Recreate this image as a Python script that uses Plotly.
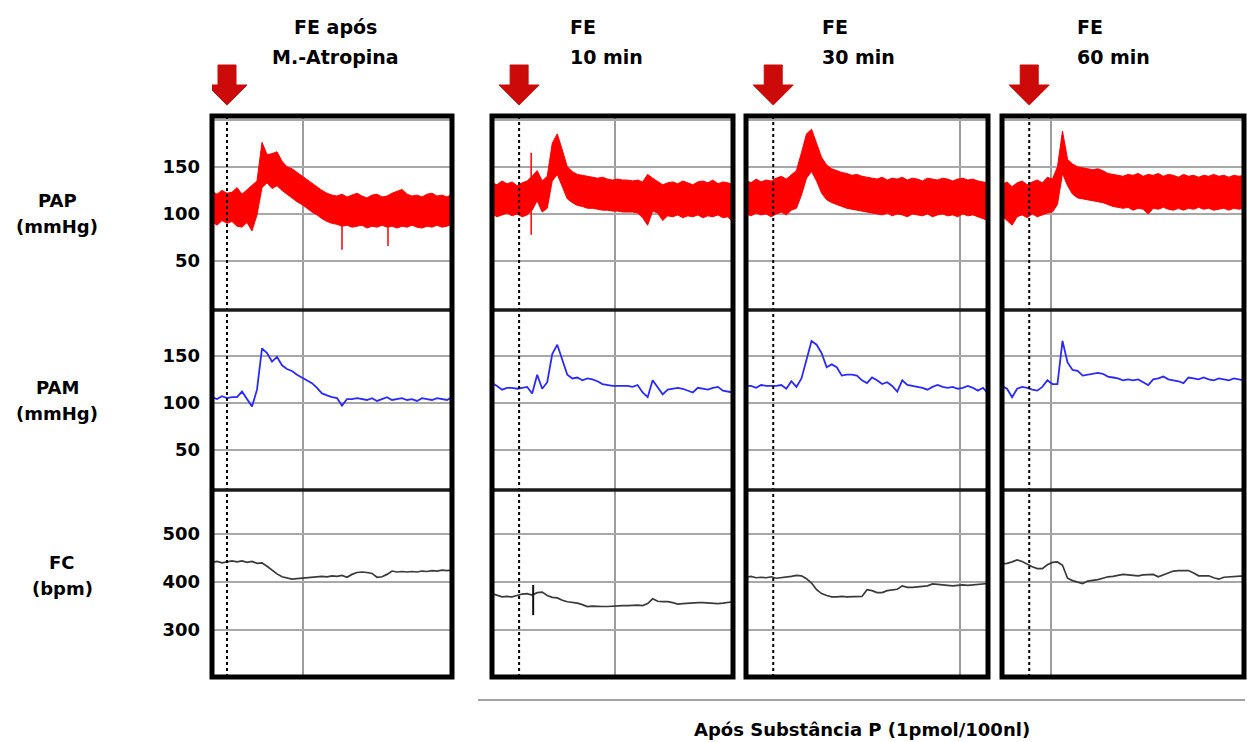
import plotly.graph_objects as go
from plotly.subplots import make_subplots

# ---------------- data ----------------
COLUMN_TITLES = [["FE após", "M.-Atropina"], ["FE", "10 min"], ["FE", "30 min"], ["FE", "60 min"]]
ROW_LABELS = [["PAP", "(mmHg)"], ["PAM", "(mmHg)"], ["FC", "(bpm)"]]
BOTTOM_LABEL = "Após Substância P (1pmol/100nl)"

# sample times (s) within each recording window
T = [0, 5, 10, 15, 20, 25, 30, 35, 40, 45, 50, 55, 60, 65, 70, 75, 80, 85, 90, 95,
     100, 105, 110, 115, 120, 125, 130, 135, 140, 145, 150, 155, 160, 165, 170, 175,
     180, 185, 190, 195, 200, 205, 210, 215, 220, 225, 230, 235, 240]

EVENT_T = [15, 27, 27, 27]        # FE stimulus time per window
GRID_T = [91, 122, 212, 49]       # vertical time grid line per window

PAP_TICKS = [50, 100, 150, 200]
PAP_TICKTEXT = ["50", "100", "150", ""]
PAM_TICKS = [50, 100, 150]
FC_TICKS = [300, 400, 500]

# PAP (pulsatile) envelopes: systolic (upper) and diastolic (lower)
PAP1_UP = [124, 121, 125, 122, 123, 128, 121, 126, 130, 135, 176, 163, 164, 166, 156, 150, 148, 144, 141, 137,
           133, 129, 125, 122, 120, 119, 121, 118, 120, 122, 119, 117, 120, 121, 118, 119, 122, 124, 126, 121,
           119, 120, 118, 121, 122, 119, 120, 118, 121]
PAP1_LO = [92, 88, 93, 90, 92, 87, 86, 91, 82, 99, 128, 133, 127, 130, 125, 121, 117, 113, 110, 106,
           102, 99, 95, 92, 90, 89, 87, 88, 86, 87, 88, 85, 87, 86, 88, 86, 87, 85, 87, 86,
           88, 86, 85, 87, 86, 88, 86, 87, 89]
PAP2_UP = [133, 131, 135, 132, 134, 130, 133, 135, 140, 146, 135, 140, 175, 185, 168, 150, 145, 142, 141, 140,
           139, 138, 139, 137, 136, 137, 136, 136, 135, 136, 134, 142, 138, 134, 131, 133, 134, 132, 135, 133,
           131, 134, 135, 133, 136, 132, 134, 133, 131]
PAP2_LO = [100, 97, 99, 101, 98, 100, 97, 99, 104, 114, 102, 106, 135, 142, 130, 116, 112, 109, 108, 106,
           106, 105, 104, 104, 103, 103, 102, 102, 102, 101, 96, 88, 103, 101, 93, 98, 97, 99, 96, 98,
           97, 99, 96, 98, 97, 99, 96, 97, 91]
PAP3_UP = [136, 133, 137, 134, 136, 135, 138, 140, 137, 142, 146, 165, 185, 190, 175, 160, 152, 148, 146, 144,
           143, 141, 142, 140, 139, 138, 137, 139, 136, 138, 137, 139, 136, 138, 137, 135, 138, 137, 136, 138,
           137, 135, 137, 138, 136, 137, 135, 134, 133]
PAP3_LO = [100, 98, 101, 99, 100, 97, 100, 102, 99, 104, 106, 120, 138, 145, 135, 122, 115, 112, 110, 108,
           106, 105, 104, 103, 102, 101, 100, 99, 101, 98, 100, 99, 97, 100, 99, 98, 100, 97, 99, 100,
           98, 99, 97, 100, 98, 99, 97, 95, 93]
PAP4_UP = [131, 134, 129, 133, 135, 131, 134, 136, 133, 139, 137, 150, 188, 158, 153, 150, 149, 148, 147, 148,
           146, 143, 142, 141, 140, 142, 141, 143, 140, 142, 141, 143, 140, 142, 141, 139, 142, 140, 141, 139,
           141, 140, 142, 140, 141, 139, 141, 140, 141]
PAP4_LO = [98, 93, 88, 97, 99, 96, 100, 97, 99, 101, 102, 110, 143, 130, 121, 117, 116, 115, 114, 113,
           112, 110, 108, 107, 106, 107, 104, 106, 105, 100, 106, 105, 107, 105, 104, 106, 104, 106, 105, 107,
           105, 106, 104, 105, 106, 104, 106, 105, 106]

# brief PAP artefact spikes per window: time, min, max
PAP_SPIKE_T = [[130, 176], [39], [], []]
PAP_SPIKE_MIN = [[62, 66], [78], [], []]
PAP_SPIKE_MAX = [[88, 87], [165], [], []]

# PAM (mean arterial pressure, mmHg)
PAM1 = [106, 104, 107, 105, 106, 106, 112, 104, 96, 114, 158, 153, 144, 149, 140, 136, 134, 130, 127, 124,
        121, 116, 110, 108, 106, 105, 97, 104, 104, 105, 104, 103, 105, 102, 104, 106, 103, 104, 105, 103,
        104, 102, 105, 104, 103, 105, 104, 103, 106]
PAM2 = [121, 118, 114, 116, 116, 115, 116, 117, 110, 130, 115, 122, 152, 162, 146, 130, 126, 127, 124, 126,
        125, 123, 120, 119, 118, 118, 118, 118, 117, 119, 111, 106, 124, 117, 109, 114, 115, 116, 115, 113,
        111, 116, 115, 114, 116, 117, 113, 112, 111]
PAM3 = [118, 118, 116, 119, 118, 118, 118, 119, 115, 123, 117, 126, 145, 166, 162, 153, 138, 141, 138, 129,
        130, 130, 129, 124, 121, 127, 124, 120, 122, 118, 112, 124, 119, 118, 117, 116, 114, 117, 119, 117,
        116, 117, 115, 116, 118, 116, 113, 116, 110]
PAM4 = [118, 115, 106, 115, 117, 116, 114, 113, 117, 124, 120, 120, 166, 143, 135, 134, 129, 130, 131, 132,
        131, 128, 127, 126, 124, 125, 124, 125, 122, 119, 125, 126, 128, 125, 124, 123, 121, 127, 126, 125,
        127, 125, 124, 126, 125, 124, 126, 125, 124]

# FC (heart rate, bpm)
FC1 = [441, 443, 440, 442, 444, 442, 444, 441, 443, 439, 440, 433, 425, 417, 411, 408, 406, 407, 408, 409,
       410, 410, 412, 411, 413, 412, 414, 410, 416, 420, 421, 420, 418, 410, 411, 416, 423, 421, 422, 421,
       422, 421, 423, 422, 424, 423, 425, 424, 425]
FC2 = [376, 372, 369, 370, 369, 372, 375, 376, 373, 378, 379, 372, 368, 367, 362, 359, 358, 356, 353, 349,
       350, 349, 349, 349, 350, 350, 351, 351, 352, 352, 351, 355, 365, 360, 359, 359, 357, 354, 355, 356,
       356, 357, 357, 356, 355, 355, 356, 357, 359]
FC3 = [410, 412, 409, 410, 409, 411, 408, 409, 411, 412, 414, 413, 407, 398, 384, 376, 372, 369, 369, 370,
       369, 369, 370, 370, 384, 382, 378, 378, 382, 383, 385, 392, 389, 389, 390, 391, 392, 396, 395, 394,
       393, 392, 393, 394, 393, 394, 394, 396, 397]
FC4 = [438, 439, 442, 446, 443, 437, 432, 428, 428, 436, 441, 442, 435, 408, 403, 400, 397, 402, 403, 405,
       408, 411, 412, 414, 416, 415, 414, 413, 415, 415, 416, 411, 415, 419, 423, 424, 424, 424, 419, 413,
       413, 413, 409, 406, 410, 411, 412, 412, 413]

FC_SPIKE_T = [[], [41], [], []]
FC_SPIKE_MIN = [[], [331], [], []]
FC_SPIKE_MAX = [[], [394], [], []]

PAP_UP = [PAP1_UP, PAP2_UP, PAP3_UP, PAP4_UP]
PAP_LO = [PAP1_LO, PAP2_LO, PAP3_LO, PAP4_LO]
PAM = [PAM1, PAM2, PAM3, PAM4]
FC = [FC1, FC2, FC3, FC4]

# ---------------- layout ----------------
W, H = 1247, 742
COL_PX = [(212, 452), (492, 733), (746, 988), (1002, 1244)]
ROW_PX = [(116, 310), (310, 490), (490, 677)]
Y_RANGES = [[-2, 204], [7, 199], [202, 592]]
X_RANGE = [0, 240]

FONT = "DejaVu Sans"
RED = "#ff0000"
BLUE = "#2a2aff"
GREY_TRACE = "#3a3a3a"
GRID = "#a8a8a8"


def px_x(px):
    return px / W


def px_y(py):
    return 1 - py / H


fig = make_subplots(rows=3, cols=4)


def axis_id(r, c):
    i = r * 4 + c + 1
    return "" if i == 1 else str(i)


for c in range(4):
    # PAP band
    band_x = T + T[::-1]
    band_y = PAP_UP[c] + PAP_LO[c][::-1]
    fig.add_trace(go.Scatter(x=band_x, y=band_y, fill="toself", fillcolor=RED,
                             mode="lines", line=dict(color=RED, width=1),
                             hoverinfo="skip"), row=1, col=c + 1)
    sx, sy = [], []
    for t, lo, hi in zip(PAP_SPIKE_T[c], PAP_SPIKE_MIN[c], PAP_SPIKE_MAX[c]):
        sx += [t, t, None]
        sy += [lo, hi, None]
    if sx:
        fig.add_trace(go.Scatter(x=sx, y=sy, mode="lines", line=dict(color=RED, width=1.5)),
                      row=1, col=c + 1)
    # PAM
    fig.add_trace(go.Scatter(x=T, y=PAM[c], mode="lines",
                             line=dict(color=BLUE, width=1.8)), row=2, col=c + 1)
    # FC
    fig.add_trace(go.Scatter(x=T, y=FC[c], mode="lines",
                             line=dict(color=GREY_TRACE, width=1.7)), row=3, col=c + 1)
    fx, fy = [], []
    for t, lo, hi in zip(FC_SPIKE_T[c], FC_SPIKE_MIN[c], FC_SPIKE_MAX[c]):
        fx += [t, t, None]
        fy += [lo, hi, None]
    if fx:
        fig.add_trace(go.Scatter(x=fx, y=fy, mode="lines", line=dict(color="#111111", width=2)),
                      row=3, col=c + 1)

tickfont = dict(family=FONT, size=18, color="black", weight="bold")
for r in range(3):
    for c in range(4):
        aid = axis_id(r, c)
        x0, x1 = COL_PX[c]
        ytop, ybot = ROW_PX[r]
        fig.layout["xaxis" + aid].update(
            domain=[px_x(x0), px_x(x1)], range=X_RANGE, showticklabels=False,
            tickvals=[GRID_T[c]], showgrid=True, gridcolor="#9c9c9c", gridwidth=1.5,
            zeroline=False, showline=False, ticks="", fixedrange=True)
        if r == 0:
            tv, tt = PAP_TICKS, PAP_TICKTEXT
        elif r == 1:
            tv, tt = PAM_TICKS, [str(v) for v in PAM_TICKS]
        else:
            tv, tt = FC_TICKS, [str(v) for v in FC_TICKS]
        fig.layout["yaxis" + aid].update(
            domain=[px_y(ybot), px_y(ytop)], range=Y_RANGES[r],
            tickvals=tv, ticktext=tt, showticklabels=(c == 0), tickfont=tickfont,
            ticklabelstandoff=11, ticks="",
            showgrid=True, gridcolor=GRID, gridwidth=2, zeroline=False, showline=False,
            fixedrange=True)

shapes = []
annotations = []
for c in range(4):
    x0, x1 = COL_PX[c]
    xref = "x" + axis_id(0, c)
    # event dotted line
    shapes.append(dict(type="line", xref=xref, yref="paper", x0=EVENT_T[c], x1=EVENT_T[c],
                       y0=px_y(ROW_PX[2][1]), y1=px_y(ROW_PX[0][0]),
                       line=dict(color="black", width=2, dash="dot"), layer="above"))
    # row dividers
    for yd in (ROW_PX[0][1], ROW_PX[1][1]):
        shapes.append(dict(type="line", xref="paper", yref="paper", x0=px_x(x0), x1=px_x(x1),
                           y0=px_y(yd), y1=px_y(yd), line=dict(color="#1a1a1a", width=3.5),
                           layer="above"))
    # outer frame
    shapes.append(dict(type="rect", xref="paper", yref="paper", x0=px_x(x0), x1=px_x(x1),
                       y0=px_y(ROW_PX[2][1]), y1=px_y(ROW_PX[0][0]),
                       line=dict(color="black", width=5), layer="above"))
    # red stimulus arrow
    shapes.append(dict(type="path", xref=xref, yref="paper", xsizemode="pixel", ysizemode="pixel",
                       xanchor=EVENT_T[c], yanchor=px_y(105),
                       path="M -9 40 L 9 40 L 9 20 L 20 20 L 0 0 L -20 20 L -9 20 Z",
                       fillcolor="#cc0a0a", line=dict(color="#cc0a0a", width=1)))

# bottom bracket line
shapes.append(dict(type="line", xref="paper", yref="paper", x0=px_x(478), x1=px_x(1245),
                   y0=px_y(700), y1=px_y(700), line=dict(color="#444444", width=1)))

title_font = dict(family=FONT, size=19, color="black", weight="bold")
label_font = dict(family=FONT, size=18, color="black", weight="bold")
# column titles
title_pos = [(335, "center"), (568, "left"), (820, "left"), (1075, "left")]
for c, (tx, anc) in enumerate(title_pos):
    for k, line in enumerate(COLUMN_TITLES[c]):
        annotations.append(dict(text=line, xref="paper", yref="paper", x=px_x(tx),
                                y=px_y(27 + 30 * k), xanchor=anc, yanchor="middle",
                                showarrow=False, font=title_font))

# row labels
row_label_pos = [(57, 200, 227), (57, 387, 413), (62, 562, 588)]
for r, (lx, ly1, ly2) in enumerate(row_label_pos):
    for k, ly in enumerate((ly1, ly2)):
        annotations.append(dict(text=ROW_LABELS[r][k], xref="paper", yref="paper", x=px_x(lx),
                                y=px_y(ly), xanchor="center", yanchor="middle",
                                showarrow=False, font=label_font))

annotations.append(dict(text=BOTTOM_LABEL, xref="paper", yref="paper", x=px_x(862), y=px_y(729),
                        xanchor="center", yanchor="middle", showarrow=False, font=label_font))

fig.update_layout(width=W, height=H, margin=dict(l=0, r=0, t=0, b=0),
                  paper_bgcolor="white", plot_bgcolor="white", showlegend=False,
                  shapes=shapes, annotations=annotations, hovermode=False)

fig.write_html("out.html", config={"displayModeBar": False},
               post_script="document.body.style.margin='0px';"
                           "document.body.style.overflow='hidden';")
